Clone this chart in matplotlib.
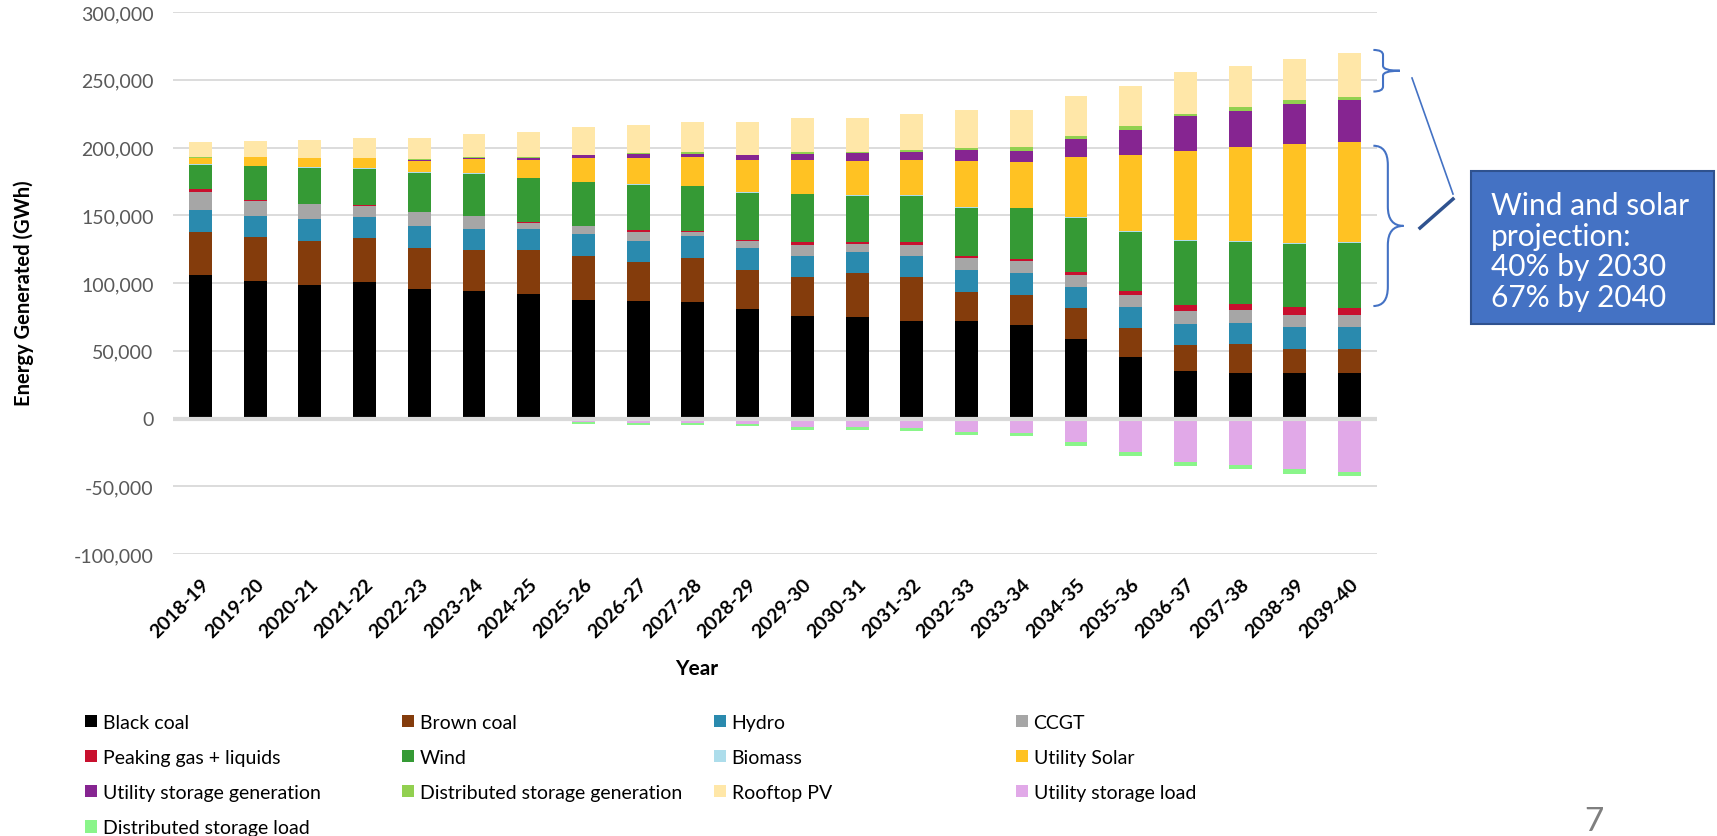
import numpy as np
import matplotlib
matplotlib.use('Agg')
import matplotlib.pyplot as plt
from matplotlib.patches import Patch, PathPatch, Rectangle
from matplotlib.path import Path
from matplotlib.lines import Line2D
from matplotlib.ticker import FuncFormatter
from matplotlib.transforms import blended_transform_factory

plt.rcParams['font.family'] = ['Lato', 'DejaVu Sans']

years = ['2018-19', '2019-20', '2020-21', '2021-22', '2022-23', '2023-24', '2024-25',
         '2025-26', '2026-27', '2027-28', '2028-29', '2029-30', '2030-31', '2031-32',
         '2032-33', '2033-34', '2034-35', '2035-36', '2036-37', '2037-38', '2038-39',
         '2039-40']

# generation (GWh), stacked upwards in this order
black_coal = [105700, 101500, 98800, 100500, 95600, 94100, 91600, 87700, 86700, 85700, 80800,
              75900, 74900, 72200, 71900, 68800, 58900, 45200, 35400, 33400, 33400, 33400]
brown_coal = [32200, 32500, 32200, 32500, 30300, 30000, 32500, 32500, 28600, 32500, 29000,
              28300, 32200, 32000, 21700, 22600, 22600, 21600, 18600, 21600, 18200, 18200]
hydro = [15800, 15700, 16000, 15800, 16000, 15800, 15800, 15800, 15700, 16800, 15800,
         16000, 16100, 16000, 16200, 15700, 15800, 15700, 15800, 15700, 16200, 16200]
ccgt = [13800, 10900, 11100, 8100, 10300, 9400, 4400, 5900, 6900, 2900, 5400,
        7900, 5400, 7900, 8400, 8800, 8300, 8400, 9300, 9400, 8800, 8800]
peaking = [1700, 1000, 500, 300, 500, 500, 400, 300, 1200, 500, 1000,
           1900, 1400, 1900, 2000, 2000, 2500, 3400, 4900, 4400, 5400, 4900]
wind = [18000, 24400, 26400, 27000, 28600, 30700, 32600, 32200, 33300, 33000, 34500,
        35500, 34500, 34500, 35500, 37300, 39800, 43200, 47100, 45700, 46700, 48200]
biomass = [400, 400, 400, 400, 400, 400, 400, 400, 400, 400, 400,
           400, 400, 400, 400, 500, 500, 600, 700, 700, 700, 700]
utility_solar = [4500, 6500, 6700, 7500, 8700, 10700, 13400, 17800, 19800, 21300, 23700,
                 25200, 25200, 26200, 34000, 33900, 44600, 56400, 65700, 69500, 73000, 73900]
utility_storage_gen = [500, 200, 200, 200, 300, 300, 1000, 1500, 2500, 2000, 3500,
                       4000, 5500, 5500, 7900, 7900, 13300, 18700, 25500, 26500, 29500, 30500]
distributed_storage_gen = [100, 100, 100, 200, 1000, 1000, 800, 700, 1000, 1900, 700,
                           1900, 1000, 1400, 2000, 2700, 2000, 2900, 2000, 3000, 2900, 2500]
rooftop_pv = [11000, 11700, 13500, 14400, 15200, 16900, 18900, 20000, 20600, 21700, 23900,
              24700, 25100, 26600, 27600, 27700, 29400, 29500, 30400, 30400, 30200, 32700]

# storage charging (GWh), stacked downwards
utility_storage_load = [0, 0, 0, 0, 0, 0, -300, -2700, -3200, -3200, -4200,
                        -6200, -6200, -6700, -10200, -10700, -17700, -24700, -32100, -34600,
                        -37600, -39600]
distributed_storage_load = [-800, -100, -100, -100, -700, -1000, -1500, -1500, -1500, -1500, -1500,
                            -2000, -2000, -2500, -2000, -2500, -2500, -2700, -3000, -3000,
                            -3500, -3000]

positive = [
    ('Black coal', black_coal, '#000000'),
    ('Brown coal', brown_coal, '#843C0C'),
    ('Hydro', hydro, '#2A8AAE'),
    ('CCGT', ccgt, '#A6A6A6'),
    ('Peaking gas + liquids', peaking, '#C8102E'),
    ('Wind', wind, '#359A35'),
    ('Biomass', biomass, '#ADDDEB'),
    ('Utility Solar', utility_solar, '#FFC223'),
    ('Utility storage generation', utility_storage_gen, '#862591'),
    ('Distributed storage generation', distributed_storage_gen, '#92D050'),
    ('Rooftop PV', rooftop_pv, '#FFE7A8'),
]
negative = [
    ('Utility storage load', utility_storage_load, '#E1A9E8'),
    ('Distributed storage load', distributed_storage_load, '#8AF58A'),
]
colors = {name: c for name, _, c in positive + negative}

W, H = 1717, 837
fig = plt.figure(figsize=(W / 100, H / 100), dpi=100)
ax = fig.add_axes([173 / W, 1 - 555 / H, 1204 / W, 542 / H])

x = np.arange(len(years))
bar_w = 0.42
bottom = np.zeros(len(years))
for name, vals, c in positive:
    ax.bar(x, vals, bar_w, bottom=bottom, color=c, linewidth=0, zorder=2)
    bottom += np.array(vals)
neg_bottom = np.zeros(len(years))
for name, vals, c in negative:
    ax.bar(x, vals, bar_w, bottom=neg_bottom, color=c, linewidth=0, zorder=2)
    neg_bottom += np.array(vals)

ax.set_xlim(-0.5, len(years) - 0.5)
ax.set_ylim(-100000, 300000)
ax.set_yticks(np.arange(-100000, 300001, 50000))
ax.yaxis.set_major_formatter(FuncFormatter(lambda v, p: f'{v:,.0f}'))
ax.grid(axis='y', color='#D9D9D9', linewidth=1.3)
ax.set_axisbelow(True)
ax.axhline(0, color='#D9D9D9', linewidth=3, zorder=3)
for s in ax.spines.values():
    s.set_visible(False)
ax.tick_params(axis='y', length=0, pad=14, labelsize=14, labelcolor='#595959')
ax.tick_params(axis='x', length=0, pad=15, labelsize=14)
ax.set_xticks(x)
ax.set_xticklabels(years, rotation=45, ha='right', rotation_mode='anchor', fontweight='bold')

fig.text(24 / W, 1 - 293 / H, 'Energy Generated (GWh)', rotation=90, fontsize=14.5,
         fontweight='bold', ha='center', va='center')
fig.text(697 / W, 1 - 669 / H, 'Year', fontsize=15, fontweight='bold', ha='center', va='center')

# legend laid out row by row in four columns
legend_cols = [
    ['Black coal', 'Peaking gas + liquids', 'Utility storage generation', 'Distributed storage load'],
    ['Brown coal', 'Wind', 'Distributed storage generation'],
    ['Hydro', 'Biomass', 'Rooftop PV'],
    ['CCGT', 'Utility Solar', 'Utility storage load'],
]
col_x = [85, 402, 714, 1016]
for names, cx in zip(legend_cols, col_x):
    handles = [Patch(facecolor=colors[n], edgecolor='none') for n in names]
    fig.legend(handles, names, loc='upper left', bbox_to_anchor=(cx / W, 1 - 715 / H),
               frameon=False, borderpad=0, borderaxespad=0, handlelength=0.6,
               handleheight=0.6, handletextpad=0.3, labelspacing=0.93, fontsize=14)

# braces beside the last bar
last = len(years) - 1
cum = np.cumsum([vals[last] for _, vals, _ in positive])
bt = blended_transform_factory(ax.transAxes, ax.transData)


def brace(y_low, y_high, x0, x1, x2):
    ym = (y_low + y_high) / 2
    r = (y_high - y_low) * 0.12
    verts = [(x0, y_high), (x1, y_high), (x1, y_high - r),
             (x1, ym + r), (x1, ym), (x2, ym),
             (x1, ym), (x1, ym - r),
             (x1, y_low + r), (x1, y_low), (x0, y_low)]
    codes = [Path.MOVETO, Path.CURVE3, Path.CURVE3,
             Path.LINETO, Path.CURVE3, Path.CURVE3,
             Path.CURVE3, Path.CURVE3,
             Path.LINETO, Path.CURVE3, Path.CURVE3]
    ax.add_patch(PathPatch(Path(verts, codes), transform=bt, fill=False,
                           edgecolor='#4472C4', linewidth=1.5, clip_on=False))


brace(cum[9] + 4000, cum[10] + 2000, 0.997, 1.005, 1.019)
brace(cum[4] + 1500, cum[7] - 3000, 0.997, 1.009, 1.022)

fig.add_artist(Line2D([1412 / W, 1453 / W], [1 - 79 / H, 1 - 195 / H],
                      transform=fig.transFigure, color='#4472C4', linewidth=1.2))
fig.add_artist(Line2D([1420 / W, 1453 / W], [1 - 229 / H, 1 - 200 / H],
                      transform=fig.transFigure, color='#2F528F', linewidth=2.5))
fig.add_artist(Rectangle((1471 / W, 1 - 325 / H), 243 / W, 153 / H, transform=fig.transFigure,
                         facecolor='#4472C4', edgecolor='#2F528F', linewidth=1.5))
fig.text(1491 / W, 1 - 252 / H, 'Wind and solar\nprojection:\n40% by 2030\n67% by 2040',
         color='white', fontsize=21.5, ha='left', va='center', linespacing=1.12)

fig.text(1594 / W, 1 - 822 / H, '7', fontsize=24, color='#7F7F7F', ha='center', va='center')

fig.savefig('out.png', dpi=100)
